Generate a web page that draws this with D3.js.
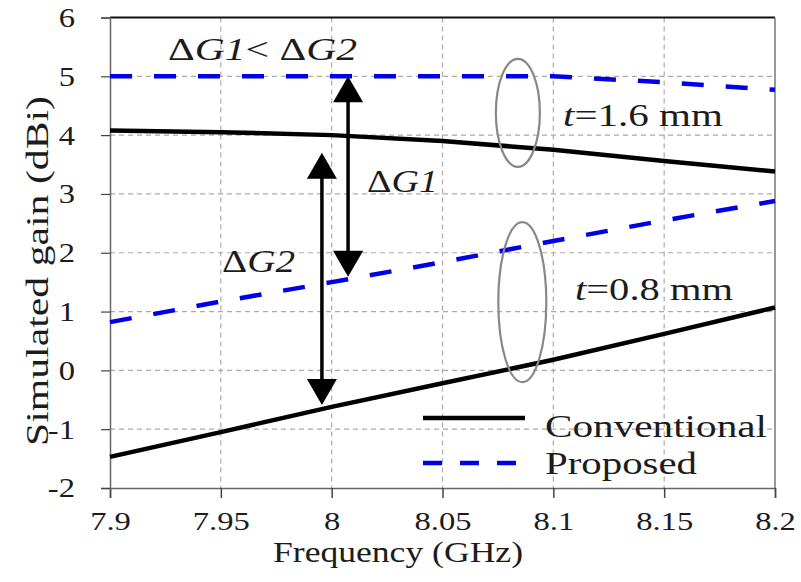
<!DOCTYPE html>
<html><head><meta charset="utf-8">
<script src="https://cdn.jsdelivr.net/npm/d3@7"></script>
<style>
body{margin:0;background:#fff;}
text{font-family:"Liberation Serif","Tinos","Times New Roman",Times,serif;fill:#1c1c1c;}
</style></head>
<body><svg id="c" width="801" height="582"></svg>
<script>
const freq = [7.9, 7.95, 8.0, 8.05, 8.1, 8.15, 8.2];
const conv16 = [4.08, 4.05, 4.0, 3.9, 3.75, 3.56, 3.38];
const prop16 = [5.0, 5.0, 5.0, 5.0, 5.0, 4.9, 4.77];
const prop08 = [0.82, 1.17, 1.5, 1.84, 2.2, 2.55, 2.88];
const conv08 = [-1.47, -1.05, -0.62, -0.22, 0.18, 0.62, 1.07];
const xTicks = [7.9, 7.95, 8.0, 8.05, 8.1, 8.15, 8.2];
const xTickLabels = ["7.9", "7.95", "8", "8.05", "8.1", "8.15", "8.2"];
const yTicks = [-2, -1, 0, 1, 2, 3, 4, 5, 6];
const yTickLabels = ["-2", "-1", "0", "1", "2", "3", "4", "5", "6"];
const seriesNames = ["Conventional", "Proposed"];

const svg = d3.select("#c");
const x = d3.scaleLinear().domain([7.9, 8.2]).range([110, 775]);
const y = d3.scaleLinear().domain([-2, 6]).range([488, 17.5]);
const EM = 32.6; // horizontal em width of the (wide) serif face
const labLen = s => [...s].reduce((a, c) => a + (c === "." ? 0.25 : c === "-" ? 0.333 : 0.5), 0) * EM;

// grid
svg.append("g").selectAll("line").data(xTicks.slice(1, -1)).join("line")
  .attr("x1", d => x(d)).attr("x2", d => x(d)).attr("y1", y(6)).attr("y2", y(-2))
  .attr("stroke", "#aaa").attr("stroke-width", 1.2).attr("stroke-dasharray", "5,4");
svg.append("g").selectAll("line").data(yTicks.slice(1, -1)).join("line")
  .attr("x1", x(7.9)).attr("x2", x(8.2)).attr("y1", d => y(d)).attr("y2", d => y(d))
  .attr("stroke", "#aaa").attr("stroke-width", 1.2).attr("stroke-dasharray", "5,4");

// frame
svg.append("line").attr("x1", x(7.9)).attr("x2", x(8.2)).attr("y1", y(6)).attr("y2", y(6)).attr("stroke", "#111").attr("stroke-width", 2);
svg.append("line").attr("x1", x(8.2)).attr("x2", x(8.2)).attr("y1", y(6)).attr("y2", y(-2)).attr("stroke", "#777").attr("stroke-width", 1.5);

// axes
const xAxis = d3.axisBottom(x).tickValues(xTicks).tickFormat((d, i) => xTickLabels[i]).tickSize(10);
const gx = svg.append("g").attr("transform", `translate(0,${y(-2)})`).call(xAxis);
gx.attr("font-family", null);
gx.select(".domain").attr("stroke", "#666").attr("stroke-width", 1.5);
gx.selectAll(".tick line").attr("stroke", "#444").attr("stroke-width", 1.5);
gx.selectAll(".tick text").attr("font-size", 26).attr("y", 42).attr("dy", 0)
  .attr("textLength", (d, i) => labLen(xTickLabels[i])).attr("lengthAdjust", "spacingAndGlyphs");

const yAxis = d3.axisLeft(y).tickValues(yTicks).tickFormat((d, i) => yTickLabels[i]).tickSize(9).tickPadding(26);
const gy = svg.append("g").attr("transform", `translate(${x(7.9)},0)`).call(yAxis);
gy.attr("font-family", null);
gy.select(".domain").attr("stroke", "#666").attr("stroke-width", 1.5);
gy.selectAll(".tick line").attr("stroke", "#444").attr("stroke-width", 1.2);
gy.selectAll(".tick text").attr("font-size", 27).attr("dy", "0.33em")
  .attr("textLength", (d, i) => labLen(yTickLabels[i])).attr("lengthAdjust", "spacingAndGlyphs");

// axis titles
svg.append("text").attr("x", 398).attr("y", 562).attr("text-anchor", "middle")
  .attr("font-size", 30).attr("textLength", 250).attr("lengthAdjust", "spacingAndGlyphs").text("Frequency (GHz)");
svg.append("text").attr("transform", "translate(48,271) rotate(-90)").attr("text-anchor", "middle")
  .attr("font-size", 32).attr("textLength", 350).attr("lengthAdjust", "spacingAndGlyphs").text("Simulated gain (dBi)");

// series
const line = d3.line().x((d, i) => x(freq[i])).y(d => y(d));
function drawSolid(vals) {
  svg.append("path").datum(vals).attr("d", line).attr("fill", "none").attr("stroke", "#000").attr("stroke-width", 4.5);
}
function drawDashed(vals) {
  svg.append("path").datum(vals).attr("d", line).attr("fill", "none").attr("stroke", "#0000e6")
    .attr("stroke-width", 4.5).attr("stroke-dasharray", "22,22");
}
drawSolid(conv16); drawSolid(conv08);
drawDashed(prop16); drawDashed(prop08);

// ellipses
svg.append("ellipse").attr("cx", x(8.084)).attr("cy", y(4.38)).attr("rx", 22).attr("ry", 54)
  .attr("fill", "none").attr("stroke", "#888").attr("stroke-width", 2.2);
svg.append("ellipse").attr("cx", x(8.086)).attr("cy", y(1.16)).attr("rx", 24).attr("ry", 80)
  .attr("fill", "none").attr("stroke", "#888").attr("stroke-width", 2.2);

// arrows
function dArrow(xv, y1v, y2v) {
  const xp = x(xv), top = y(y1v), bot = y(y2v), hl = 26, hw = 15;
  svg.append("line").attr("x1", xp).attr("x2", xp).attr("y1", top + hl - 2).attr("y2", bot - hl + 2)
    .attr("stroke", "#000").attr("stroke-width", 3.5);
  svg.append("path").attr("d", `M${xp},${top} L${xp - hw},${top + hl} L${xp + hw},${top + hl} Z`).attr("fill", "#000");
  svg.append("path").attr("d", `M${xp},${bot} L${xp - hw},${bot - hl} L${xp + hw},${bot - hl} Z`).attr("fill", "#000");
}
dArrow(8.0074, 5.0, 1.59);
dArrow(7.9956, 3.70, -0.59);

// annotation texts
function deltaText(px, py, parts, len) {
  const t = svg.append("text").attr("x", px).attr("y", py).attr("font-size", 31)
    .attr("textLength", len).attr("lengthAdjust", "spacingAndGlyphs");
  parts.forEach(p => t.append("tspan").attr("font-style", p[1] ? "italic" : "normal").text(p[0]));
}
deltaText(168, 60, [["Δ", 0], ["G1", 1], ["< Δ", 0], ["G2", 1]], 189);
deltaText(367, 192, [["Δ", 0], ["G1", 1]], 71);
deltaText(222, 272, [["Δ", 0], ["G2", 1]], 73);
deltaText(563, 126, [["t", 1], ["=1.6 mm", 0]], 160);
deltaText(575, 300, [["t", 1], ["=0.8 mm", 0]], 158);

// legend
const legY = [418, 463];
svg.append("line").attr("x1", 423).attr("x2", 525).attr("y1", legY[0]).attr("y2", legY[0]).attr("stroke", "#000").attr("stroke-width", 4.5);
svg.append("line").attr("x1", 423).attr("x2", 525).attr("y1", legY[1]).attr("y2", legY[1]).attr("stroke", "#0000e6").attr("stroke-width", 4.5).attr("stroke-dasharray", "19,18");
svg.append("text").attr("x", 545).attr("y", 437).attr("font-size", 32).attr("textLength", 222).attr("lengthAdjust", "spacingAndGlyphs").text(seriesNames[0]);
svg.append("text").attr("x", 545).attr("y", 474).attr("font-size", 32).attr("textLength", 152).attr("lengthAdjust", "spacingAndGlyphs").text(seriesNames[1]);
</script></body></html>
